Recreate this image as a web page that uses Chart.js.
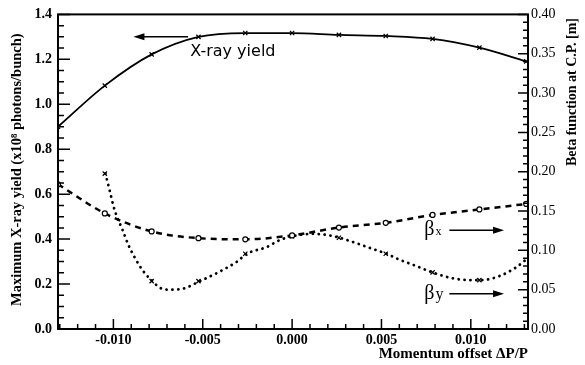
<!DOCTYPE html>
<html>
<head>
<meta charset="utf-8">
<script src="https://cdn.jsdelivr.net/npm/chart.js@4.4.1/dist/chart.umd.min.js"></script>
<style>
  html, body { margin: 0; padding: 0; background: #fff; }
  #wrap { width: 585px; height: 365px; }
</style>
</head>
<body>
<div id="wrap"><canvas id="grafico" width="585" height="365"></canvas></div>
<script>
// offset de momento (dP/P) dos pontos calculados
const deltaP    = [-0.0131, -0.01048, -0.00786, -0.00524, -0.00262, 0, 0.00262, 0.00524, 0.00786, 0.01048, 0.0131];
const xrayYield = [0.90, 1.083, 1.222, 1.300, 1.317, 1.317, 1.309, 1.304, 1.291, 1.252, 1.191];
const betaX     = [0.184, 0.147, 0.124, 0.1155, 0.114, 0.119, 0.129, 0.135, 0.145, 0.152, 0.159];

// curva pontilhada de beta y (dP/P em 1e-3)
const betaYCurveDp = [-10.45, -10.17, -10.0, -9.78, -9.50, -9.16, -8.77, -8.32, -7.82, -7.38, -6.82, -6.26,
                      -5.15, -4.03, -3.08, -2.53, -1.41, -0.69, 0.04, 1.15, 2.10, 2.66, 3.61, 4.50, 5.28,
                      6.01, 7.01, 7.85, 8.96, 10.02, 10.58, 11.58, 12.53, 13.09];
const betaYCurve   = [0.1975, 0.1727, 0.1565, 0.1416, 0.1267, 0.1068, 0.0894, 0.0733, 0.0609, 0.0522, 0.0500, 0.0505,
                      0.0609, 0.0733, 0.0857, 0.0957, 0.1043, 0.1130, 0.1180, 0.1210, 0.1190, 0.1160, 0.1090, 0.1019, 0.0957,
                      0.0882, 0.0795, 0.0720, 0.0646, 0.0621, 0.0621, 0.0671, 0.0783, 0.0882];
const betaYMarkDp  = [-0.01048, -0.00786, -0.00524, -0.00262, 0, 0.00262, 0.00524, 0.00786, 0.01048];
const betaYMark    = [0.1975, 0.0609, 0.0609, 0.0957, 0.1180, 0.1160, 0.0957, 0.0720, 0.0621];

const xTicks = [-0.010, -0.005, 0.000, 0.005, 0.010];

const pontos = (xs, ys) => xs.map((x, i) => ({ x, y: ys[i] }));

const fonteEixo = { family: 'Liberation Serif', weight: 'bold', size: 14 };

function seta(ctx, x1, y1, x2, y2) {
    const ang = Math.atan2(y2 - y1, x2 - x1);
    ctx.beginPath();
    ctx.moveTo(x1, y1);
    ctx.lineTo(x2 - 8 * Math.cos(ang), y2 - 8 * Math.sin(ang));
    ctx.stroke();
    ctx.beginPath();
    ctx.moveTo(x2, y2);
    ctx.lineTo(x2 - 11 * Math.cos(ang) + 3.5 * Math.sin(ang), y2 - 11 * Math.sin(ang) - 3.5 * Math.cos(ang));
    ctx.lineTo(x2 - 11 * Math.cos(ang) - 3.5 * Math.sin(ang), y2 - 11 * Math.sin(ang) + 3.5 * Math.cos(ang));
    ctx.closePath();
    ctx.fill();
}

const molduraPlugin = {
    id: 'moldura',
    afterDraw(chart) {
        const { ctx, chartArea: a, scales } = chart;
        const sx = scales.x, sy = scales.y, sy1 = scales.y1;
        ctx.save();
        ctx.strokeStyle = '#000';
        ctx.fillStyle = '#000';

        // caixa
        ctx.lineWidth = 2;
        ctx.strokeRect(a.left, a.top, a.right - a.left, a.bottom - a.top);

        // ticks para dentro
        ctx.lineWidth = 1.5;
        ctx.beginPath();
        for (let i = -13; i <= 13; i++) {
            const px = sx.getPixelForValue(i / 1000);
            const len = i % 5 === 0 ? 10 : 5;
            ctx.moveTo(px, a.bottom);
            ctx.lineTo(px, a.bottom - len);
        }
        for (let i = 0; i <= 28; i++) {
            const py = sy.getPixelForValue(i * 0.05);
            const len = i % 4 === 0 ? 12 : 6;
            ctx.moveTo(a.left, py);
            ctx.lineTo(a.left + len, py);
        }
        for (let i = 0; i <= 40; i++) {
            const py = sy1.getPixelForValue(i / 100);
            const len = i % 5 === 0 ? 10 : 5;
            ctx.moveTo(a.right, py);
            ctx.lineTo(a.right - len, py);
        }
        ctx.stroke();

        // títulos dos eixos
        ctx.font = "bold 14.5px 'Liberation Serif'";
        ctx.textBaseline = 'middle';
        ctx.textAlign = 'center';
        ctx.save();
        ctx.translate(17, (a.top + a.bottom) / 2 - 2);
        ctx.rotate(-Math.PI / 2);
        ctx.fillText('Maximum X-ray yield (x10\u2078 photons/bunch)', 0, 0);
        ctx.restore();

        ctx.save();
        ctx.translate(572, 92);
        ctx.rotate(-Math.PI / 2);
        ctx.font = "bold 14px 'Liberation Serif'";
        ctx.fillText('Beta function at C.P. [m]', 0, 0);
        ctx.restore();

        ctx.textAlign = 'right';
        ctx.font = "bold 15px 'Liberation Serif'";
        ctx.fillText('Momentum offset \u0394P/P', a.right, 354);

        // setas e rótulos das curvas
        ctx.lineWidth = 1.5;
        const yRay = sy.getPixelForValue(1.30);
        seta(ctx, sx.getPixelForValue(-0.00582), yRay, sx.getPixelForValue(-0.00888), yRay);
        ctx.textAlign = 'left';
        ctx.textBaseline = 'alphabetic';
        ctx.font = "16px 'DejaVu Sans'";
        ctx.fillText('X-ray yield', sx.getPixelForValue(-0.0057), sy.getPixelForValue(1.213));

        const bxY = sy1.getPixelForValue(0.1255);
        const byY = sy1.getPixelForValue(0.0447);
        const x0 = sx.getPixelForValue(0.0088), x1 = sx.getPixelForValue(0.01186);
        seta(ctx, x0, bxY, x1, bxY);
        seta(ctx, x0, byY, x1, byY);

        const lx = sx.getPixelForValue(0.0074);
        ctx.font = "20px 'Liberation Serif'";
        ctx.fillText('\u03b2', lx, bxY + 5);
        ctx.fillText('\u03b2', lx, byY + 5);
        const wB = ctx.measureText('\u03b2').width;
        ctx.font = "12px 'Liberation Serif'";
        ctx.fillText('x', lx + wB + 1, bxY + 5);
        ctx.font = "16px 'Liberation Serif'";
        ctx.fillText('y', lx + wB + 1, byY + 5);

        ctx.restore();
    }
};

new Chart(document.getElementById('grafico'), {
    type: 'scatter',
    data: {
        datasets: [
            {
                label: 'X-ray yield',
                data: pontos(deltaP, xrayYield),
                yAxisID: 'y',
                showLine: true,
                borderColor: '#000',
                borderWidth: 1.8,
                cubicInterpolationMode: 'monotone',
                pointStyle: 'crossRot',
                pointRadius: 3,
                pointBorderWidth: 1.2,
                pointBorderColor: '#000',
            },
            {
                label: 'beta x',
                data: pontos(deltaP, betaX),
                yAxisID: 'y1',
                showLine: true,
                borderColor: '#000',
                borderWidth: 2.5,
                borderDash: [6, 5],
                cubicInterpolationMode: 'monotone',
                pointStyle: 'circle',
                pointRadius: 2.5,
                pointBorderWidth: 1.2,
                pointBorderColor: '#000',
                pointBackgroundColor: '#fff',
            },
            {
                label: 'beta y',
                data: pontos(betaYCurveDp.map(v => v / 1000), betaYCurve),
                yAxisID: 'y1',
                showLine: true,
                borderColor: '#000',
                borderWidth: 2.8,
                borderDash: [0.1, 5.8],
                borderCapStyle: 'round',
                cubicInterpolationMode: 'monotone',
                pointRadius: 0,
            },
            {
                label: 'beta y pontos',
                data: pontos(betaYMarkDp, betaYMark),
                yAxisID: 'y1',
                showLine: false,
                pointStyle: 'crossRot',
                pointRadius: 3,
                pointBorderWidth: 1.2,
                pointBorderColor: '#000',
            }
        ]
    },
    options: {
        responsive: false,
        animation: false,
        devicePixelRatio: 1,
        layout: { padding: { top: 7 } },
        plugins: { legend: { display: false }, tooltip: { enabled: false } },
        scales: {
            x: {
                type: 'linear',
                min: -0.0131,
                max: 0.0132,
                grid: { display: false, drawTicks: false },
                border: { display: false },
                afterBuildTicks: scale => { scale.ticks = xTicks.map(v => ({ value: v })); },
                afterFit: scale => { scale.height = 36; },
                ticks: {
                    color: '#000',
                    font: fonteEixo,
                    padding: 3,
                    maxRotation: 0,
                    callback: v => v.toFixed(3)
                }
            },
            y: {
                position: 'left',
                min: 0,
                max: 1.4,
                grid: { display: false, drawTicks: false },
                border: { display: false },
                afterFit: scale => { scale.width = 58; },
                ticks: {
                    stepSize: 0.2,
                    color: '#000',
                    font: fonteEixo,
                    padding: 6,
                    callback: v => v.toFixed(1)
                }
            },
            y1: {
                position: 'right',
                min: 0,
                max: 0.4,
                grid: { display: false, drawTicks: false },
                border: { display: false },
                afterFit: scale => { scale.width = 57; },
                ticks: {
                    stepSize: 0.05,
                    color: '#000',
                    font: { family: 'Liberation Serif', size: 14 },
                    padding: 3,
                    callback: v => v.toFixed(2)
                }
            }
        }
    },
    plugins: [molduraPlugin]
});
</script>
</body>
</html>
